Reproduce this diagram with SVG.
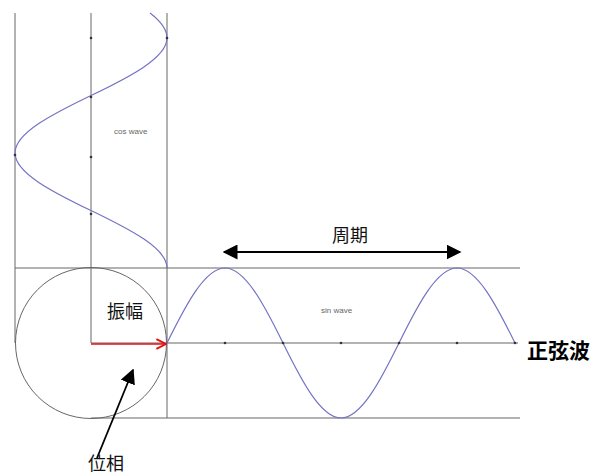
<svg xmlns="http://www.w3.org/2000/svg" width="595" height="474" viewBox="0 0 595 474">
<style>
.grid{stroke:#666;stroke-width:1;fill:none}
.wave{stroke:#7373c4;stroke-width:1.2;fill:none}
.dot{fill:#333}
.small{font-family:"Liberation Sans",Arial,sans-serif;font-size:8px;fill:#666}
.lbl{font-family:"Noto Sans CJK JP","Noto Sans CJK SC",sans-serif;font-size:18px;fill:#111}
.big{font-family:"Noto Sans CJK JP","Noto Sans CJK SC",sans-serif;font-size:21px;font-weight:bold;fill:#000}
</style>
<defs>
<marker id="tri2" viewBox="0 0 10 10" refX="9" refY="5" markerWidth="15" markerHeight="15" markerUnits="userSpaceOnUse" orient="auto-start-reverse"><path d="M0,0 L10,5 L0,10 Z" fill="#000"/></marker>
<marker id="chev" viewBox="0 0 10 10" refX="9" refY="5" markerWidth="12" markerHeight="12" markerUnits="userSpaceOnUse" orient="auto"><path d="M1,1 L9,5 L1,9" fill="none" stroke="#e01010" stroke-width="1.6"/></marker>
</defs>
<rect width="595" height="474" fill="#fff"/>
<g id="grid">
<line class="grid" x1="15" y1="13" x2="15" y2="343"/>
<line class="grid" x1="91" y1="13" x2="91" y2="343"/>
<line class="grid" x1="167" y1="13" x2="167" y2="418"/>
<line class="grid" x1="15" y1="268" x2="520" y2="268" stroke="#888"/>
<line class="grid" x1="91" y1="343" x2="518" y2="343" stroke="#555"/>
<line class="grid" x1="91" y1="418" x2="520" y2="418" stroke="#888"/>
<circle class="grid" cx="91" cy="343" r="75.5" stroke="#777"/>
</g>
<g id="cos-wave">
<path class="wave" d="M167,268 C167,248.23 129.93,229.25 91,210.5 C52.07,191.75 15,172.77 15,153 C15,133.23 52.07,114.25 91,95.5 C129.93,76.75 167,57.77 167,38 C167,29.67 160.9,21.33 150,13"/>
<circle class="dot" cx="91" cy="38" r="1.3"/>
<circle class="dot" cx="91" cy="97" r="1.3"/>
<circle class="dot" cx="91" cy="157" r="1.3"/>
<circle class="dot" cx="91" cy="214" r="1.3"/>
<circle class="dot" cx="167" cy="38" r="1.3"/>
<circle class="dot" cx="15" cy="155" r="1.3"/>
<text class="small" x="114" y="134">cos wave</text>
</g>
<g id="sin-wave">
<path class="wave" d="M167,343 C185.92,304.58 205.06,268 225,268 C244.94,268 264.08,304.58 283,343 C301.92,381.42 321.06,418 341,418 C360.94,418 380.08,381.42 399,343 C417.92,304.58 437.06,268 457,268 C476.94,268 496.08,304.58 515,343"/>
<circle class="dot" cx="225" cy="343" r="1.3"/>
<circle class="dot" cx="283" cy="343" r="1.3"/>
<circle class="dot" cx="341" cy="343" r="1.3"/>
<circle class="dot" cx="399" cy="343" r="1.3"/>
<circle class="dot" cx="457" cy="343" r="1.3"/>
<circle class="dot" cx="515" cy="343" r="1.3"/>
<text class="small" x="321" y="313">sin wave</text>
</g>
<g id="connectors">
<line x1="91" y1="344" x2="166" y2="344" stroke="#e01010" stroke-width="1.6" marker-end="url(#chev)"/>
<line x1="224" y1="252" x2="460" y2="252" stroke="#000" stroke-width="2" marker-start="url(#tri2)" marker-end="url(#tri2)"/>
<line x1="97" y1="458" x2="133" y2="370" stroke="#000" stroke-width="1.8" marker-end="url(#tri2)"/>
</g>
<g id="labels">
<text class="lbl" x="107" y="318">振幅</text>
<text class="lbl" x="332" y="242">周期</text>
<text class="lbl" x="88" y="470">位相</text>
<text class="big" x="527" y="358">正弦波</text>
</g>
</svg>
